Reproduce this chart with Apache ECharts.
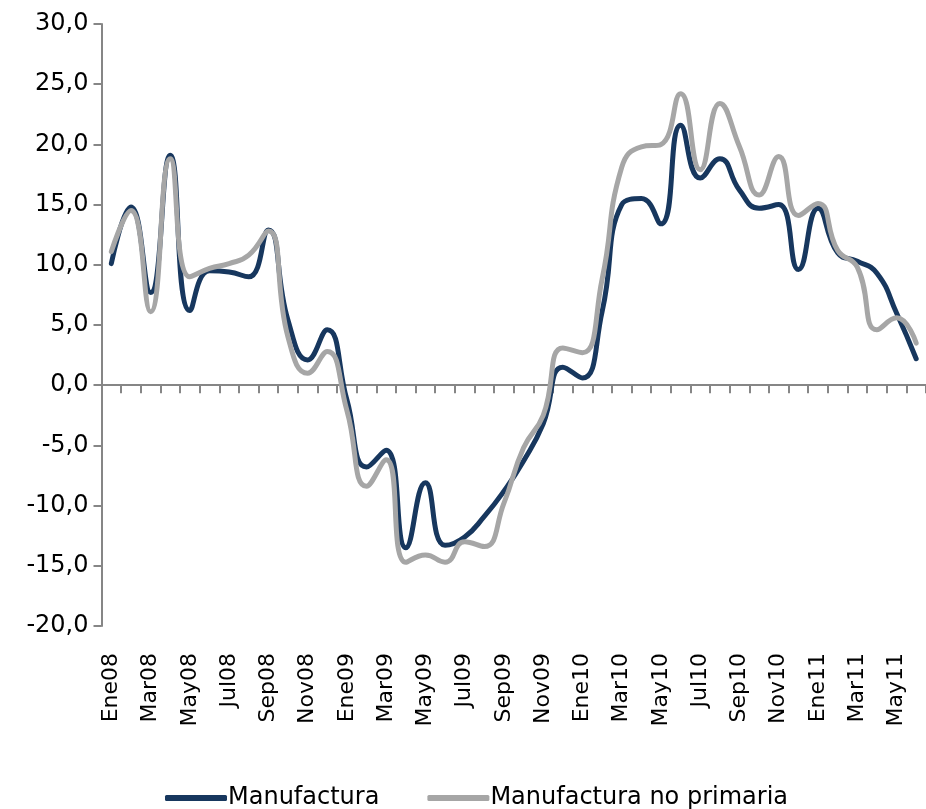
<!DOCTYPE html>
<html>
<head>
<meta charset="utf-8">
<script src="https://cdn.jsdelivr.net/npm/echarts@6/dist/echarts.min.js"></script>
<style>
html,body{margin:0;padding:0;background:#fff;overflow:hidden;}
#chart{width:926px;height:809px;}
</style>
</head>
<body>
<div id="chart"></div>
<script>
const categories = ["Ene08","Feb08","Mar08","Abr08","May08","Jun08","Jul08","Ago08","Sep08","Oct08","Nov08","Dic08",
  "Ene09","Feb09","Mar09","Abr09","May09","Jun09","Jul09","Ago09","Sep09","Oct09","Nov09","Dic09",
  "Ene10","Feb10","Mar10","Abr10","May10","Jun10","Jul10","Ago10","Sep10","Oct10","Nov10","Dic10",
  "Ene11","Feb11","Mar11","Abr11","May11","Jun11"];
const manufactura = [10.1,14.8,7.7,19.1,6.2,9.5,9.4,9.0,12.9,5.4,2.1,4.6,
  -1.2,-6.8,-5.4,-13.5,-8.1,-13.3,-12.6,-10.9,-8.8,-6.3,-3.2,1.5,
  0.6,6.1,15.0,15.5,13.4,21.6,17.2,18.8,16.2,14.7,15.0,9.6,
  14.7,11.0,10.3,9.3,6.0,2.2];
const manufacturaNoPrimaria = [11.1,14.5,6.1,18.8,9.0,9.7,10.1,10.8,12.8,4.0,1.0,2.8,
  -2.1,-8.4,-6.2,-14.7,-14.1,-14.7,-13.0,-13.4,-9.8,-5.2,-2.5,3.1,
  2.7,8.8,18.1,19.8,20.0,24.2,17.9,23.4,19.8,15.8,19.0,14.1,
  15.1,11.2,9.8,4.6,5.6,3.5];
const seriesNames = ["Manufactura","Manufactura no primaria"];
const yMin = -20, yMax = 30, yStep = 5;

const axisColor = '#868686';
const font = 'DejaVu Sans';
const chart = echarts.init(document.getElementById('chart'), null, {renderer:'canvas'});
chart.setOption({
  animation:false,
  backgroundColor:'#fff',
  grid:{left:101.5, width:828.5, top:24, bottom:183, containLabel:false},
  legend:{
    data:seriesNames,
    left:160, top:781,
    itemWidth:62, itemHeight:6, itemGap:48,
    icon:'roundRect',
    textStyle:{fontFamily:font, fontSize:24, color:'#000', padding:[0,0,0,-4]}
  },
  xAxis:[{
    type:'category', data:categories, boundaryGap:true, position:'bottom',
    axisLine:{show:false, onZero:false}, axisTick:{show:false},
    axisLabel:{interval:1, rotate:90, margin:27, fontFamily:font, fontSize:22, color:'#000'}
  },{
    type:'category', data:categories, boundaryGap:true, position:'top',
    axisLine:{show:true, onZero:true, onZeroAxisIndex:0, lineStyle:{color:axisColor, width:2}},
    axisTick:{show:true, interval:0, inside:true, length:8, lineStyle:{color:axisColor, width:2}},
    axisLabel:{show:false, interval:0}
  }],
  yAxis:{
    type:'value', min:yMin, max:yMax, interval:yStep,
    axisLine:{show:true, lineStyle:{color:axisColor, width:2}},
    axisTick:{show:true, length:8, lineStyle:{color:axisColor, width:2}},
    splitLine:{show:false},
    axisLabel:{margin:13, fontFamily:font, fontSize:24, color:'#000',
      formatter:v=>v.toFixed(1).replace('.',',')}
  },
  series:[{
    name:seriesNames[0], type:'line', data:manufactura, xAxisIndex:0,
    smooth:0.5, showSymbol:false, symbol:'none',
    lineStyle:{color:'#17375E', width:5, cap:'round', join:'round'},
    itemStyle:{color:'#17375E'}
  },{
    name:seriesNames[1], type:'line', data:manufacturaNoPrimaria, xAxisIndex:0,
    smooth:0.5, showSymbol:false, symbol:'none',
    lineStyle:{color:'#A6A6A6', width:5, cap:'round', join:'round'},
    itemStyle:{color:'#A6A6A6'}
  }]
});
</script>
</body>
</html>
